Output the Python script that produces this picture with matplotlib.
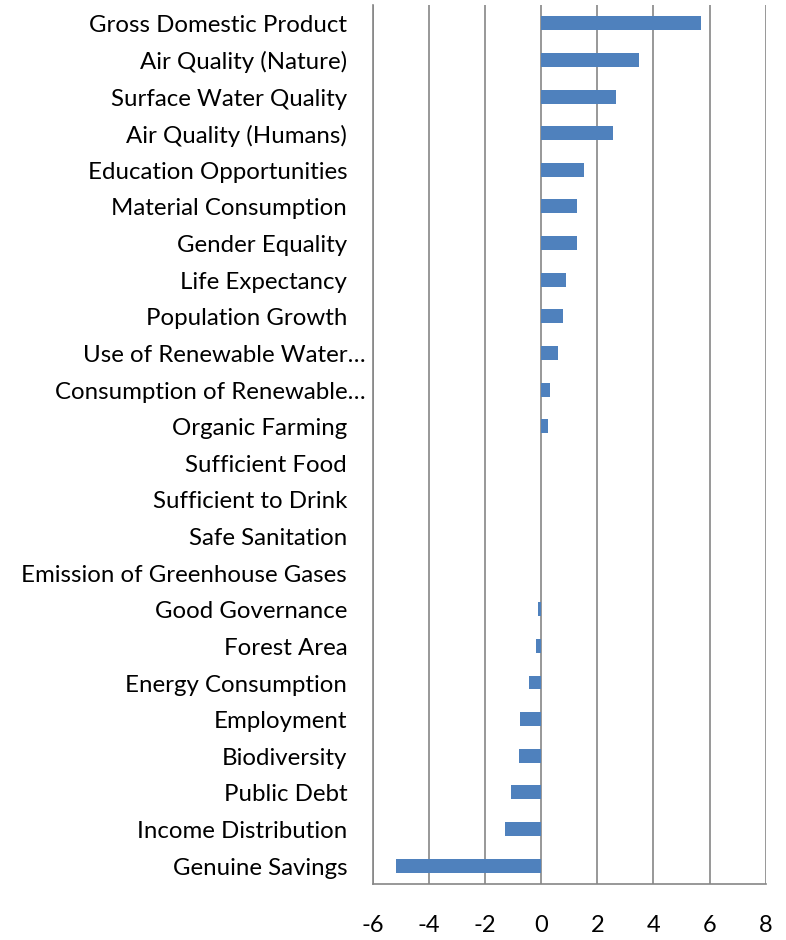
import matplotlib
matplotlib.use("Agg")
import matplotlib.pyplot as plt
import matplotlib.transforms as mtransforms
import numpy as np

plt.rcParams['font.family'] = ['Lato', 'DejaVu Sans']

# Data, top to bottom as shown
categories = ['Gross Domestic Product', 'Air Quality (Nature)', 'Surface Water Quality',
              'Air Quality (Humans)', 'Education Opportunities', 'Material Consumption',
              'Gender Equality', 'Life Expectancy', 'Population Growth',
              'Use of Renewable Water…', 'Consumption of Renewable…', 'Organic Farming',
              'Sufficient Food', 'Sufficient to Drink', 'Safe Sanitation',
              'Emission of Greenhouse Gases', 'Good Governance', 'Forest Area',
              'Energy Consumption', 'Employment', 'Biodiversity', 'Public Debt',
              'Income Distribution', 'Genuine Savings']
values = [5.68, 3.50, 2.68, 2.55, 1.52, 1.29, 1.27, 0.90, 0.79, 0.59, 0.33, 0.25,
          0.0, 0.0, 0.0, 0.0, -0.11, -0.18, -0.43, -0.75, -0.80, -1.07, -1.27, -5.17]
x_ticks = [-6, -4, -2, 0, 2, 4, 6, 8]

fig = plt.figure(figsize=(7.86, 9.40), dpi=100)
ax = fig.add_axes([0.4742, 0.0596, 0.5, 0.9351])

n = len(categories)
y = np.arange(n)[::-1]

grid_col = '#868686'
for t in x_ticks:
    ax.axvline(t, color=grid_col, lw=1.2, zorder=1)

ax.barh(y, values, height=0.38, color='#4F81BD', linewidth=0, zorder=3)

ax.set_xlim(-6, 8)
ax.set_ylim(-0.5, n - 0.5)
ax.set_xticks(x_ticks)
ax.set_xticklabels([str(t) for t in x_ticks], fontsize=17)
ax.tick_params(axis='x', length=0, pad=22)
ax.set_yticks([])

for side in ['top', 'right']:
    ax.spines[side].set_visible(False)
for side in ['left', 'bottom']:
    ax.spines[side].set_color(grid_col)
    ax.spines[side].set_linewidth(1.2)

# category labels, right aligned left of the axis (nudged down a little)
trans = mtransforms.blended_transform_factory(ax.transAxes, ax.transData)
trans = mtransforms.offset_copy(trans, fig=fig, y=-2.5, units='dots')
for yi, lab in zip(y, categories):
    off = -0.019 if lab.endswith('…') else -0.065
    ax.text(off, yi, lab, transform=trans, ha='right', va='center', fontsize=17.3)

fig.savefig('out.png', dpi=100)
